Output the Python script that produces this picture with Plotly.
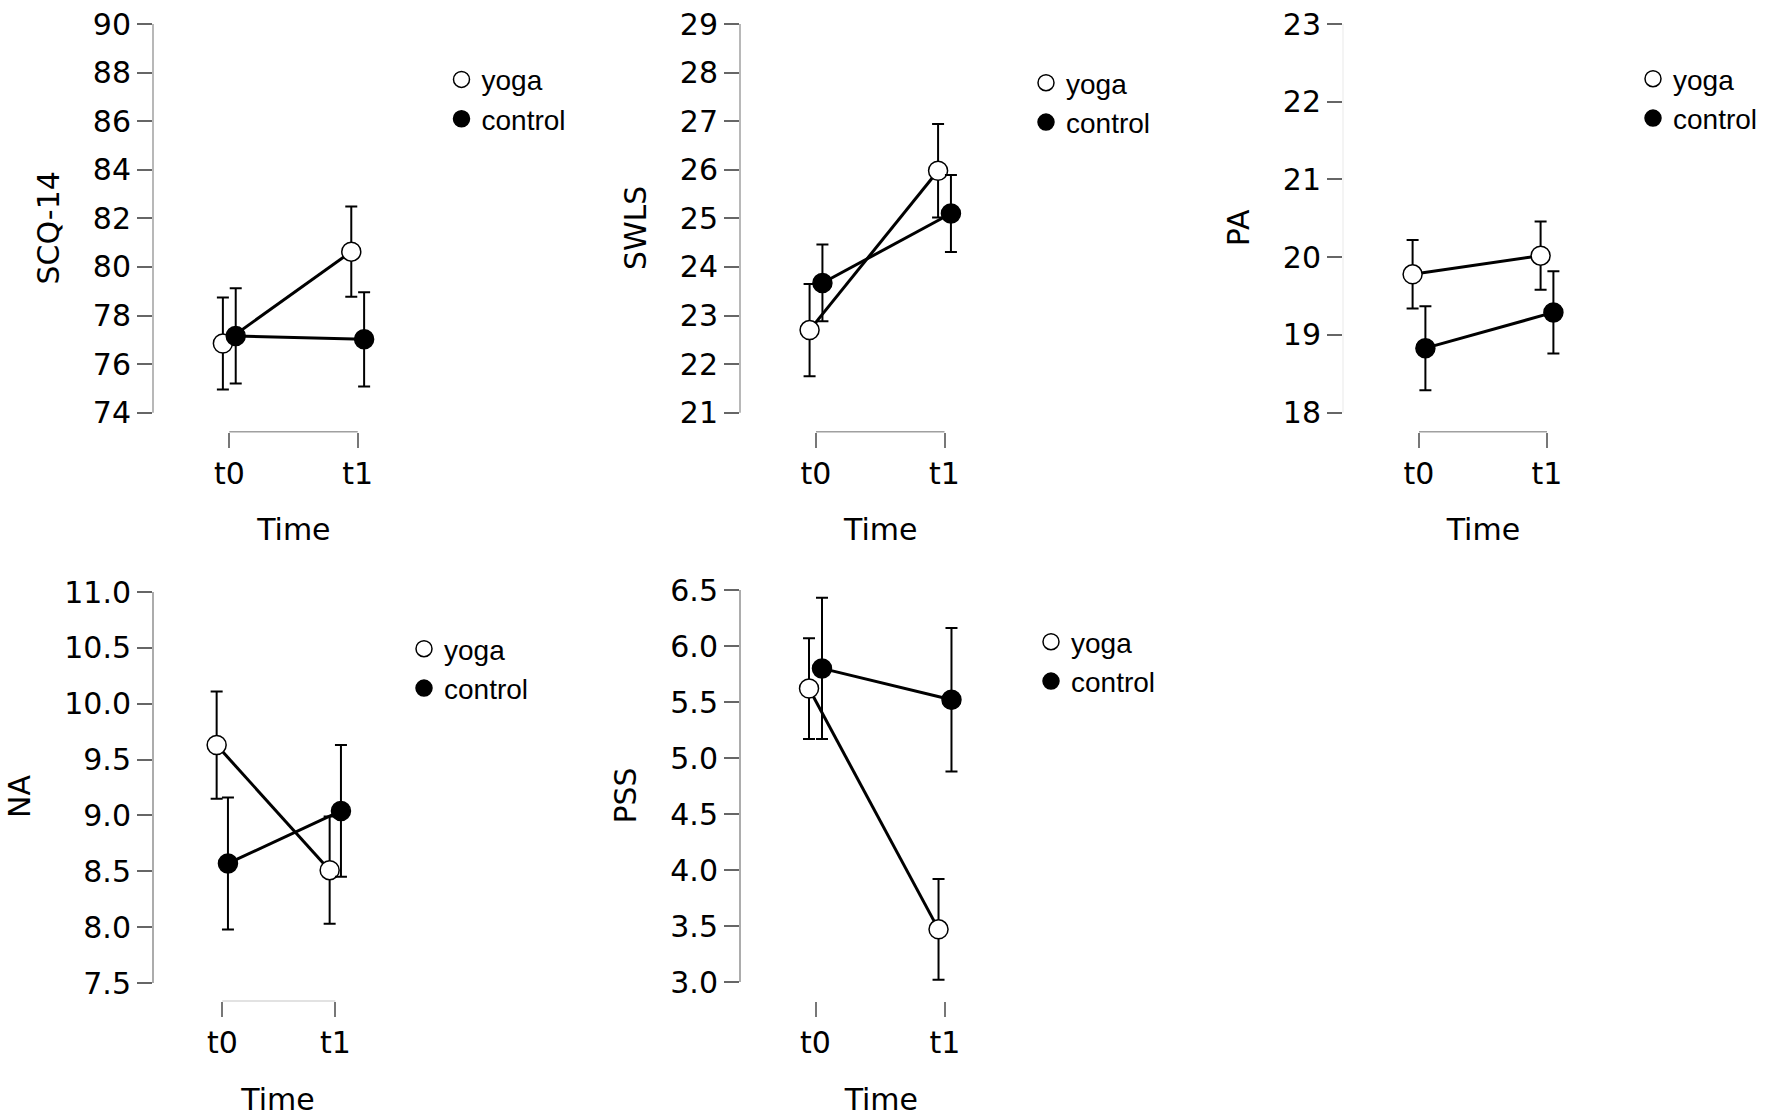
import plotly.graph_objects as go

W, H = 1772, 1120

# values (mean and error bar half-length, t0 / t1)
measures = ["SCQ-14", "SWLS", "PA", "NA", "PSS"]
time_labels = ["t0", "t1"]
groups = ["yoga", "control"]

yoga_mean = [[76.85, 80.63], [22.70, 25.98], [19.78, 20.02], [9.63, 8.51], [5.62, 3.47]]
yoga_err = [[1.89, 1.86], [0.95, 0.96], [0.44, 0.44], [0.48, 0.48], [0.45, 0.45]]
control_mean = [[77.16, 77.02], [23.67, 25.10], [18.83, 19.29], [8.57, 9.04], [5.80, 5.52]]
control_err = [[1.96, 1.94], [0.79, 0.79], [0.54, 0.53], [0.59, 0.59], [0.63, 0.64]]

y_ticks = [
    [74, 76, 78, 80, 82, 84, 86, 88, 90],
    [21, 22, 23, 24, 25, 26, 27, 28, 29],
    [18, 19, 20, 21, 22, 23],
    [7.5, 8.0, 8.5, 9.0, 9.5, 10.0, 10.5, 11.0],
    [3.0, 3.5, 4.0, 4.5, 5.0, 5.5, 6.0, 6.5],
]
y_ticktext = [
    ["74", "76", "78", "80", "82", "84", "86", "88", "90"],
    ["21", "22", "23", "24", "25", "26", "27", "28", "29"],
    ["18", "19", "20", "21", "22", "23"],
    ["7.5", "8.0", "8.5", "9.0", "9.5", "10.0", "10.5", "11.0"],
    ["3.0", "3.5", "4.0", "4.5", "5.0", "5.5", "6.0", "6.5"],
]

# panel placement in pixels: y-axis line, t0, t1, top tick, bottom tick, x baseline, legend
panels = [
    dict(axis=153, t0=229.3, t1=357.7, top=24, bot=412.7, base=431.7, leg=(463.5, 80.7), yline="#a0a0a0", xline="#a0a0a0"),
    dict(axis=740, t0=816, t1=944.5, top=24, bot=412.7, base=431.7, leg=(1048, 84), yline="#a0a0a0", xline="#a0a0a0"),
    dict(axis=1343, t0=1419, t1=1547, top=24, bot=412.7, base=431.7, leg=(1655, 80), yline="#f0f0f0", xline="#a0a0a0"),
    dict(axis=153, t0=222.3, t1=335.3, top=592, bot=983, base=1001, leg=(426, 650), yline="#909090", xline="#d8d8d8"),
    dict(axis=740, t0=815.5, t1=945, top=590, bot=982, base=1001, leg=(1053, 643), yline="#909090", xline="rgba(0,0,0,0)"),
]

dodge = 0.05
tick_font = dict(family="DejaVu Sans", size=30, color="black")
title_font = dict(family="DejaVu Sans", size=30, color="black")
legend_font = dict(family="Liberation Sans", size=28, color="black")

fig = go.Figure()
layout = dict(
    template="none",
    width=W, height=H, autosize=False,
    margin=dict(l=0, r=0, t=0, b=0, pad=0),
    paper_bgcolor="white", plot_bgcolor="white",
    shapes=[],
)

for i, name in enumerate(measures):
    p = panels[i]
    s = "" if i == 0 else str(i + 1)
    xs = list(range(len(time_labels)))
    x_yoga = [v - dodge for v in xs]
    x_ctrl = [v + dodge for v in xs]

    # connecting lines
    for xv, yv in [(x_yoga, yoga_mean[i]), (x_ctrl, control_mean[i])]:
        fig.add_trace(go.Scatter(
            x=xv, y=yv, mode="lines", xaxis="x" + s, yaxis="y" + s,
            line=dict(color="black", width=3), showlegend=False, hoverinfo="skip",
        ))
    # points with error bars
    fig.add_trace(go.Scatter(
        x=x_yoga, y=yoga_mean[i], mode="markers", name=groups[0],
        xaxis="x" + s, yaxis="y" + s, legend="legend" + s,
        error_y=dict(type="data", array=yoga_err[i], color="black", thickness=2, width=6),
        marker=dict(symbol="circle", size=19, color="white", line=dict(color="black", width=1.5)),
    ))
    fig.add_trace(go.Scatter(
        x=x_ctrl, y=control_mean[i], mode="markers", name=groups[1],
        xaxis="x" + s, yaxis="y" + s, legend="legend" + s,
        error_y=dict(type="data", array=control_err[i], color="black", thickness=2, width=6),
        marker=dict(symbol="circle", size=19, color="black", line=dict(color="black", width=1.5)),
    ))

    ppu = p["t1"] - p["t0"]
    x_left = -(p["t0"] - p["axis"]) / ppu
    x_right = len(time_labels) - 1 + 0.6
    ymin, ymax = y_ticks[i][0], y_ticks[i][-1]
    ppy = (p["bot"] - p["top"]) / (ymax - ymin)
    y_low = ymin - (p["base"] - p["bot"]) / ppy

    layout["xaxis" + s] = dict(
        domain=[p["axis"] / W, (p["t0"] + x_right * ppu) / W],
        range=[x_left, x_right], anchor="y" + s, automargin=False,
        tickvals=xs, ticktext=time_labels, tickfont=tick_font,
        ticks="outside", ticklen=15, tickwidth=2, tickcolor="#777777",
        showline=False, showgrid=False, zeroline=False,
        title=dict(text="Time", font=title_font, standoff=29),
    )
    layout["yaxis" + s] = dict(
        domain=[1 - p["base"] / H, 1 - p["top"] / H],
        range=[y_low, ymax], anchor="x" + s, automargin=False,
        tickvals=y_ticks[i], ticktext=y_ticktext[i], tickfont=tick_font,
        ticks="outside", ticklen=15, tickwidth=2, tickcolor="#666666",
        showline=False, showgrid=False, zeroline=False,
        title=dict(text=name, font=title_font, standoff=24),
    )
    # R-style range-limited axis lines
    layout["shapes"].append(dict(
        type="line", xref="x" + s + " domain", yref="y" + s,
        x0=0, x1=0, y0=ymin, y1=ymax, line=dict(color=p["yline"], width=1.5),
    ))
    layout["shapes"].append(dict(
        type="line", xref="x" + s, yref="y" + s + " domain",
        x0=xs[0], x1=xs[-1], y0=0, y1=0, line=dict(color=p["xline"], width=1.5),
    ))
    layout["legend" + s] = dict(
        x=(p["leg"][0] - 22) / W, y=1 - (p["leg"][1] - 26) / H,
        xanchor="left", yanchor="top", font=legend_font,
        bgcolor="rgba(0,0,0,0)", borderwidth=0, itemwidth=30, tracegroupgap=0,
    )

fig.update_layout(**layout)
fig.write_html(
    "out.html",
    config={"displayModeBar": False},
    post_script="document.body.style.margin = '0';",
)
